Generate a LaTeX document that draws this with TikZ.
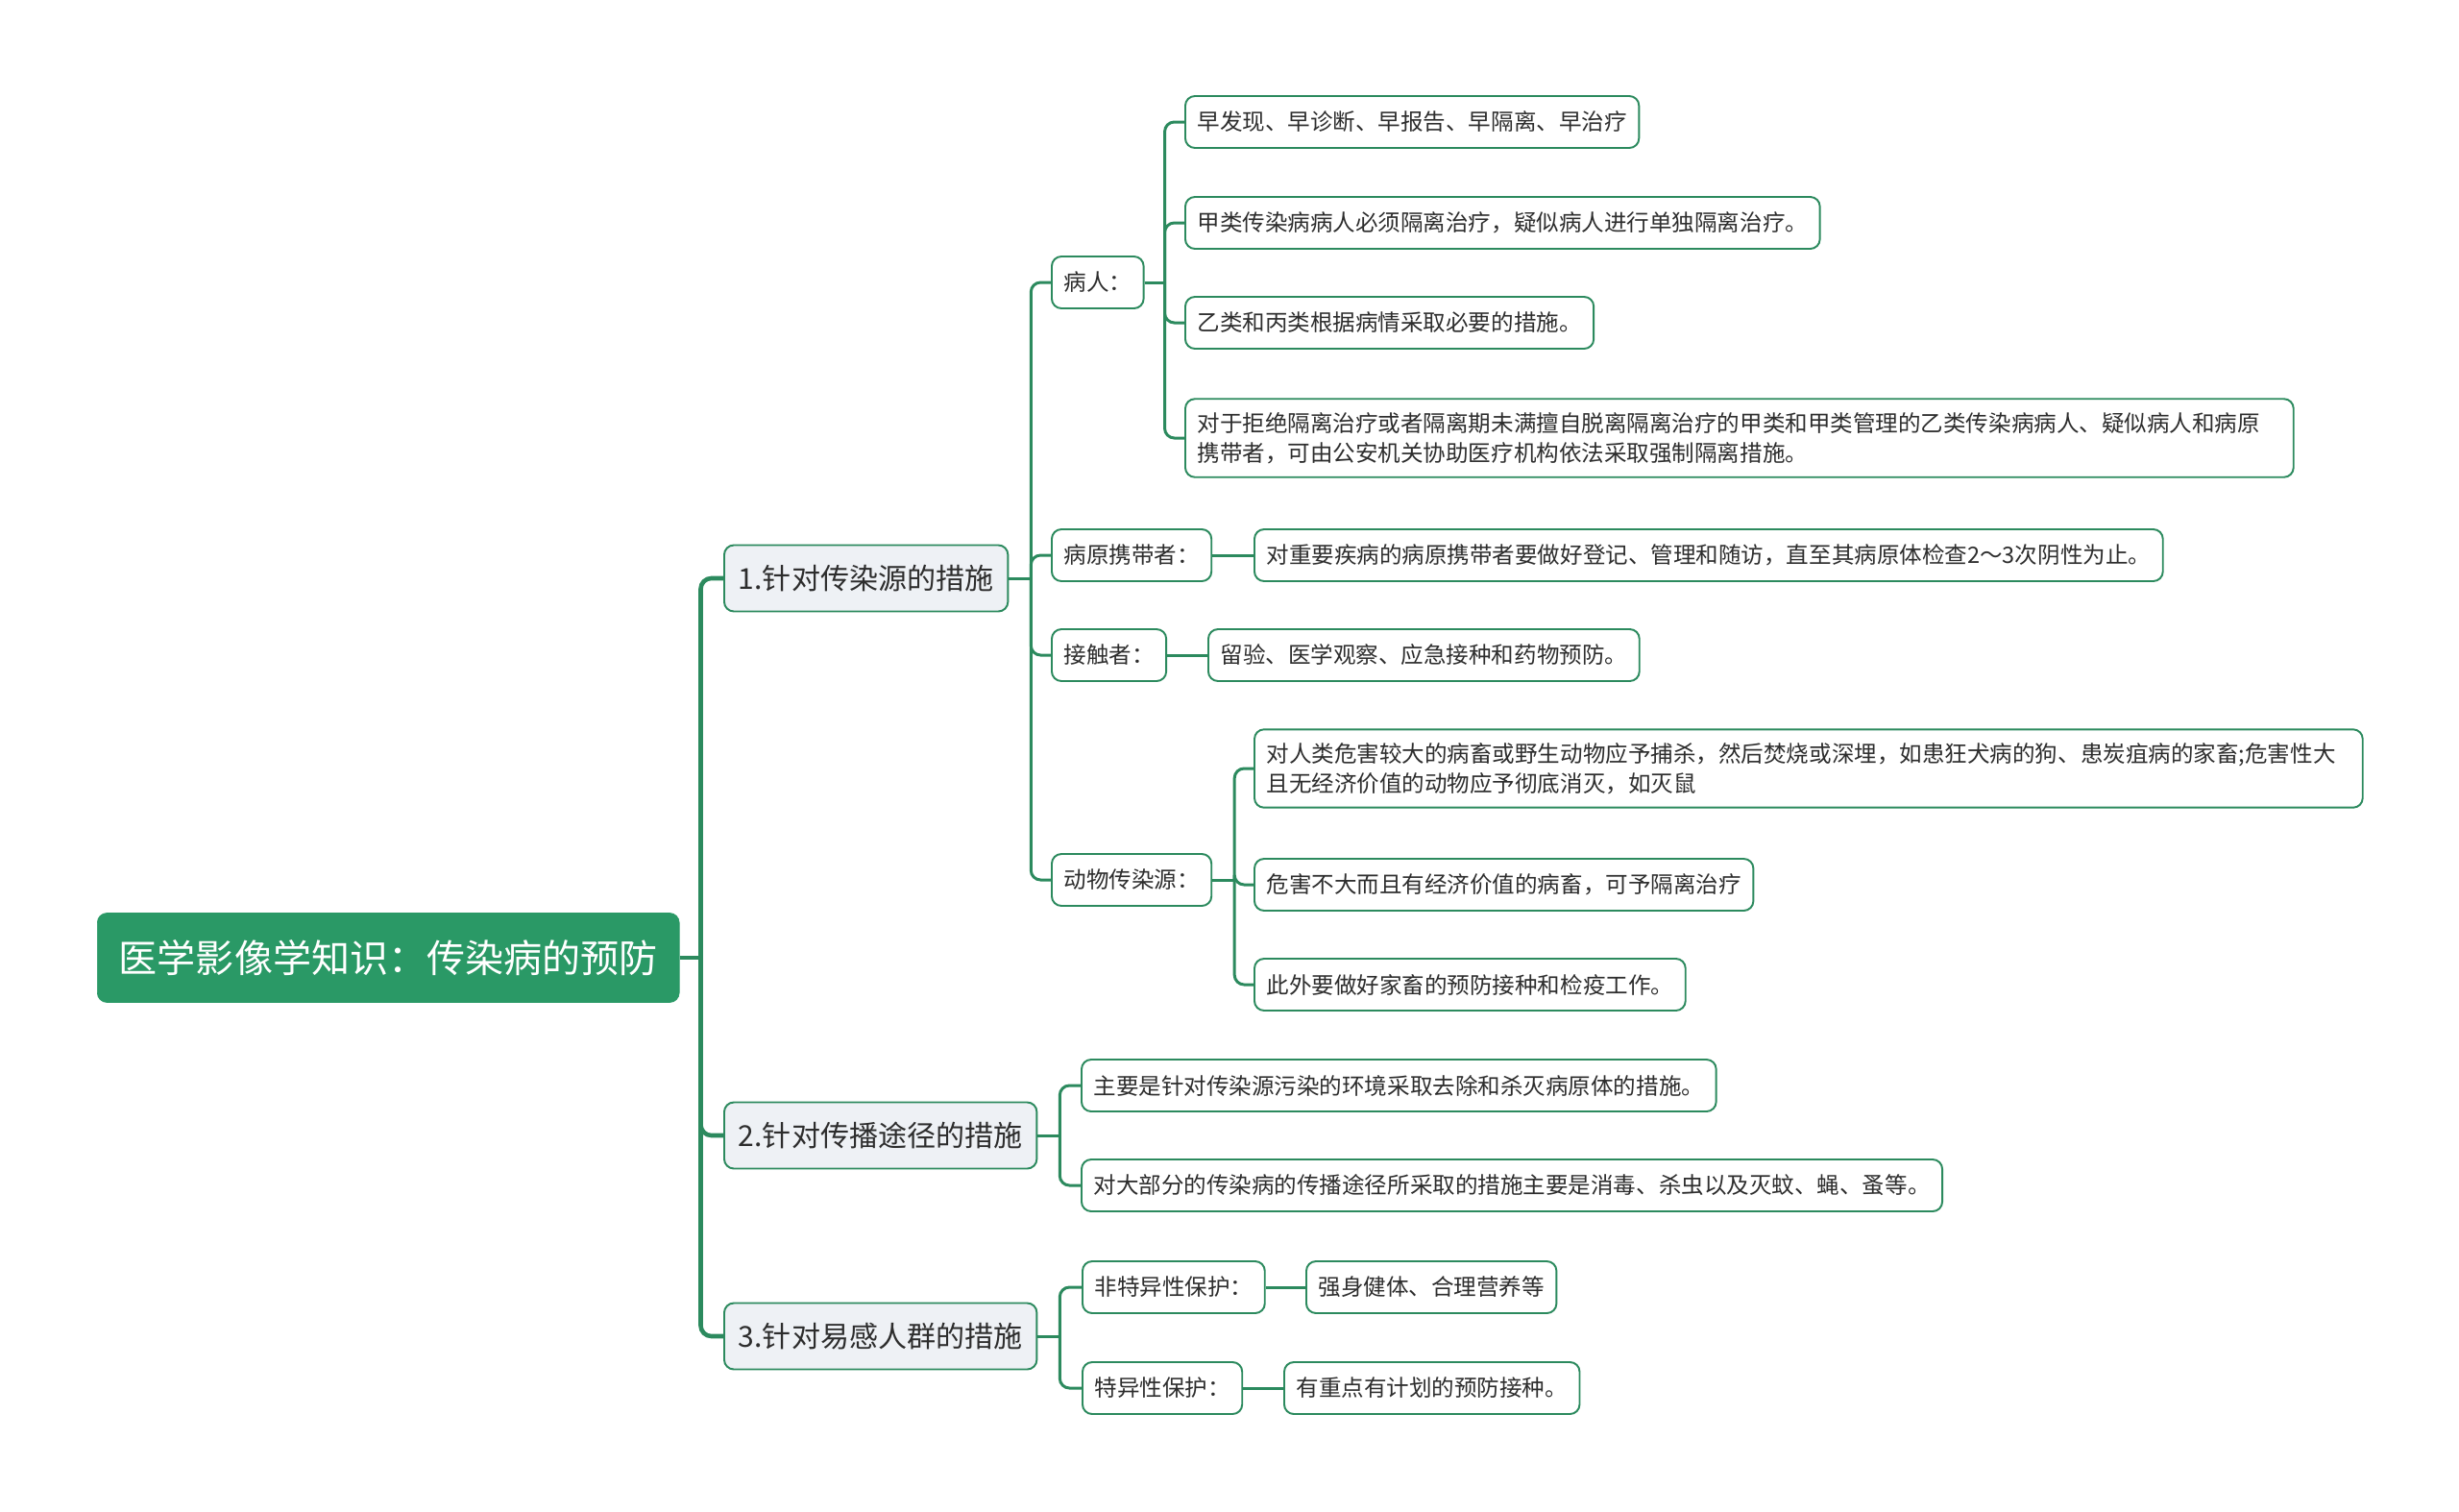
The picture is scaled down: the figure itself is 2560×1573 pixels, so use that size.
\documentclass[tikz,border=0pt]{standalone}
\usepackage{fontspec}
\setmainfont{Noto Sans CJK SC}
\usepackage{xcolor}
\definecolor{rootgreen}{RGB}{42, 153, 102}
\definecolor{linegreen}{RGB}{44, 138, 94}
\definecolor{topicfill}{RGB}{238, 241, 245}
\definecolor{textgrey}{RGB}{45, 45, 45}
\usetikzlibrary{positioning, calc}

\begin{document}
\begin{tikzpicture}[x=0.02cm, y=-0.02cm,
    rootbox/.style={draw=rootgreen, fill=rootgreen, text=white, rounded corners=0.2cm, anchor=west, inner xsep=0.45cm, minimum height=1.86cm, font=\fontsize{22.8pt}{27pt}\selectfont},
    topicbox/.style={draw=linegreen, fill=topicfill, text=textgrey, line width=1.1pt, rounded corners=0.2cm, anchor=west, inner xsep=0.3cm, minimum height=1.38cm, font=\fontsize{17.1pt}{20pt}\selectfont},
    leafbox/.style={draw=linegreen, fill=white, text=textgrey, line width=1.1pt, rounded corners=0.2cm, anchor=west, inner xsep=0.25cm, inner ysep=0.28cm, minimum height=1.08cm, align=left, font=\fontsize{13.4pt}{17.6pt}\selectfont},
    widebox/.style={leafbox, text width=22.58cm},
    trunk/.style={draw=linegreen, line width=2.6pt, rounded corners=0.22cm},
    branch/.style={draw=linegreen, line width=1.7pt, rounded corners=0.2cm}]
    \useasboundingbox (0,0) rectangle (2560,1573);

    % root and main topics
    \node [rootbox] (root) at (101,997) {医学影像学知识：传染病的预防};
    \node [topicbox] (source) at (753,602) {1.针对传染源的措施};
    \node [topicbox] (route) at (753,1182) {2.针对传播途径的措施};
    \node [topicbox] (crowd) at (753,1391) {3.针对易感人群的措施};

    % 1. source
    \node [leafbox] (patient) at (1094,294) {病人：};
    \node [leafbox] (carrier) at (1094,578) {病原携带者：};
    \node [leafbox] (contact) at (1094,682) {接触者：};
    \node [leafbox] (animal) at (1094,916) {动物传染源：};

    \node [leafbox] (pat1) at (1233,127) {早发现、早诊断、早报告、早隔离、早治疗};
    \node [leafbox] (pat2) at (1233,232) {甲类传染病病人必须隔离治疗，疑似病人进行单独隔离治疗。};
    \node [leafbox] (pat3) at (1233,336) {乙类和丙类根据病情采取必要的措施。};
    \node [widebox] (pat4) at (1233,456) {对于拒绝隔离治疗或者隔离期未满擅自脱离隔离治疗的甲类和甲类管理的乙类传染病病人、疑似病人和病原\\携带者，可由公安机关协助医疗机构依法采取强制隔离措施。};

    \node [leafbox] (car1) at (1305,578) {对重要疾病的病原携带者要做好登记、管理和随访，直至其病原体检查2～3次阴性为止。};
    \node [leafbox] (con1) at (1257,682) {留验、医学观察、应急接种和药物预防。};

    \node [widebox] (ani1) at (1305,800) {对人类危害较大的病畜或野生动物应予捕杀，然后焚烧或深埋，如患狂犬病的狗、患炭疽病的家畜;危害性大\\且无经济价值的动物应予彻底消灭，如灭鼠};
    \node [leafbox] (ani2) at (1305,921) {危害不大而且有经济价值的病畜，可予隔离治疗};
    \node [leafbox] (ani3) at (1305,1025) {此外要做好家畜的预防接种和检疫工作。};

    % 2. route
    \node [leafbox] (rou1) at (1125,1130) {主要是针对传染源污染的环境采取去除和杀灭病原体的措施。};
    \node [leafbox] (rou2) at (1125,1234) {对大部分的传染病的传播途径所采取的措施主要是消毒、杀虫以及灭蚊、蝇、蚤等。};

    % 3. crowd
    \node [leafbox] (nonspec) at (1126,1340) {非特异性保护：};
    \node [leafbox] (spec) at (1126,1445) {特异性保护：};
    \node [leafbox] (non1) at (1359,1340) {强身健体、合理营养等};
    \node [leafbox] (spe1) at (1336,1445) {有重点有计划的预防接种。};

    % junctions
    \coordinate (rootj) at ($(root.east)+(22,0)$);
    \coordinate (sourcej) at ($(source.east)+(23,0)$);
    \coordinate (patientj) at ($(patient.east)+(21,0)$);
    \coordinate (animalj) at ($(animal.east)+(23,0)$);
    \coordinate (routej) at ($(route.east)+(23,0)$);
    \coordinate (crowdj) at ($(crowd.east)+(23,0)$);

    % connectors
    \draw [trunk] (root.east) -- (rootj);
    \draw [trunk] (rootj) |- (source.west);
    \draw [trunk] (rootj) |- (route.west);
    \draw [trunk] (rootj) |- (crowd.west);

    \draw [branch] (source.east) -- (sourcej);
    \draw [branch] (sourcej) |- (patient.west);
    \draw [branch] (sourcej) |- (carrier.west);
    \draw [branch] (sourcej) |- (contact.west);
    \draw [branch] (sourcej) |- (animal.west);

    \draw [branch] (patient.east) -- (patientj);
    \draw [branch] (patientj) |- (pat1.west);
    \draw [branch] (patientj) |- (pat2.west);
    \draw [branch] (patientj) |- (pat3.west);
    \draw [branch] (patientj) |- (pat4.west);

    \draw [branch] (carrier.east) -- (car1.west);
    \draw [branch] (contact.east) -- (con1.west);

    \draw [branch] (animal.east) -- (animalj);
    \draw [branch] (animalj) |- (ani1.west);
    \draw [branch] (animalj) |- (ani2.west);
    \draw [branch] (animalj) |- (ani3.west);

    \draw [branch] (route.east) -- (routej);
    \draw [branch] (routej) |- (rou1.west);
    \draw [branch] (routej) |- (rou2.west);

    \draw [branch] (crowd.east) -- (crowdj);
    \draw [branch] (crowdj) |- (nonspec.west);
    \draw [branch] (crowdj) |- (spec.west);
    \draw [branch] (nonspec.east) -- (non1.west);
    \draw [branch] (spec.east) -- (spe1.west);
\end{tikzpicture}
\end{document}
